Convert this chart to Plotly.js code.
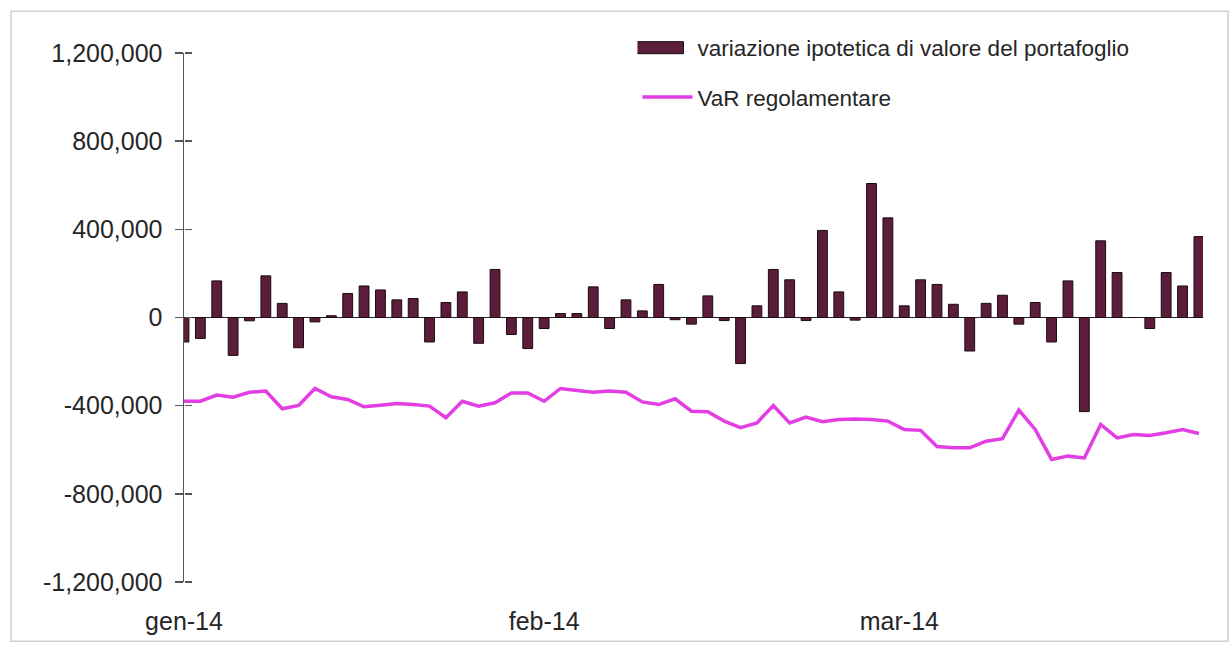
<!DOCTYPE html>
<html>
<head>
<meta charset="utf-8">
<script src="https://cdn.plot.ly/plotly-3.0.1.min.js"></script>
<style>
html,body{margin:0;padding:0;background:#fff;}
#chart{width:1232px;height:649px;}
</style>
</head>
<body>
<div id="chart"></div>
<script>
// Hypothetical change in portfolio value (EUR), one bar per business day
var portfolioChange = [
  -111000,-95000,166000,-172000,-15000,189000,64000,-137000,-20000,8000,109000,143000,125000,80000,86000,-111000,
  68000,116000,-117000,218000,-77000,-141000,-50000,18000,18000,139000,-50000,80000,30000,150000,-10000,
  -30000,98000,-14000,-209000,53000,218000,171000,-14000,395000,116000,-12000,608000,452000,53000,171000,150000,
  60000,-152000,64000,101000,-30000,68000,-111000,166000,-427000,348000,204000,0,-50000,204000,143000,367000
];
// Regulatory VaR
var varRegolamentare = [
  -380000,-380000,-352000,-362000,-339000,-334000,-414000,-399000,-322000,-360000,-372000,-405000,-398000,-390000,-395000,-402000,
  -455000,-380000,-402000,-387000,-342000,-342000,-380000,-322000,-331000,-339000,-334000,-339000,-383000,-395000,-369000,
  -425000,-428000,-470000,-500000,-478000,-399000,-478000,-452000,-473000,-463000,-460000,-463000,-470000,-508000,-512000,-585000,
  -591000,-591000,-561000,-550000,-420000,-508000,-644000,-629000,-637000,-485000,-546000,-531000,-535000,-523000,-508000,-526000
];
var monthLabels = ['gen-14','feb-14','mar-14'];
var monthTickPos = [0, 22, 43.7];
var yTickVals = [1200000,800000,400000,0,-400000,-800000,-1200000];
var yTickText = ['1,200,000','800,000','400,000','0','-400,000','-800,000','-1,200,000'];
var seriesNames = ['variazione ipotetica di valore del portafoglio','VaR regolamentare'];

var days = portfolioChange.map(function(_, i){ return i; });

var fam = '"Liberation Sans", Arial, sans-serif';
var textColor = '#262626';
var barColor = '#5c1d3a';

var traces = [
  {
    type:'bar', name:seriesNames[0], x:days, y:portfolioChange,
    marker:{color:barColor, line:{color:'#1a0a12', width:1}},
    width:0.6, cliponaxis:false, legendgroup:'a', hoverinfo:'y'
  },
  {
    type:'scatter', mode:'lines', name:seriesNames[1], x:days, y:varRegolamentare,
    yaxis:'y2',
    line:{color:'#e23ee4', width:3.5}, legendgroup:'b', hoverinfo:'y'
  }
];

var layout = {
  width:1232, height:649,
  margin:{l:184, r:29, t:53, b:67, pad:0},
  paper_bgcolor:'#ffffff', plot_bgcolor:'#ffffff',
  font:{family:fam, size:22, color:textColor},
  showlegend:true,
  legend:{x:0.445, xanchor:'left', y:1.05, yanchor:'top', bgcolor:'rgba(0,0,0,0)',
          font:{family:fam, size:22.5, color:textColor},
          traceorder:'grouped', tracegroupgap:17, itemwidth:50},
  xaxis:{
    range:[0, 62.25], showgrid:false, zeroline:false, showline:false,
    tickmode:'array', tickvals:monthTickPos, ticktext:monthLabels,
    ticks:'outside', ticklen:17, tickcolor:'rgba(0,0,0,0)',
    tickfont:{family:fam, size:25, color:textColor}
  },
  yaxis:{
    range:[-1200000, 1200000], showgrid:false,
    zeroline:true, zerolinecolor:'#222', zerolinewidth:1,
    showline:true, linecolor:'#555', linewidth:1.5,
    tickmode:'array', tickvals:yTickVals, ticktext:yTickText,
    ticks:'outside', ticklen:8, tickcolor:'#555', tickwidth:1.5,
    ticklabelstandoff:7,
    tickfont:{family:fam, size:25, color:textColor}
  },
  yaxis2:{
    overlaying:'y', anchor:'free', position:0, side:'right', range:[-1200000,1200000],
    showgrid:false, zeroline:false, showline:false, showticklabels:false,
    tickmode:'array', tickvals:yTickVals, ticks:'outside', ticklen:7, tickcolor:'#555', tickwidth:1.5
  },
  shapes:[
    {type:'rect', xref:'paper', yref:'paper', x0:-0.1698, x1:1.0245, y0:-0.112, y1:1.0788,
     line:{color:'#cfcfcf', width:1.5}, fillcolor:'rgba(0,0,0,0)', layer:'below'}
  ]
};

Plotly.newPlot('chart', traces, layout, {displayModeBar:false, staticPlot:true}).then(function(gd){
  // widen the bar legend swatch to match the original wide rectangle
  var first = gd.querySelector('.legend .traces .legendpoints path');
  if(first){
    first.setAttribute('d','M-26,6H26V-6H-26Z');
    first.setAttribute('transform','translate(20,0)');
  }
});
</script>
</body>
</html>
